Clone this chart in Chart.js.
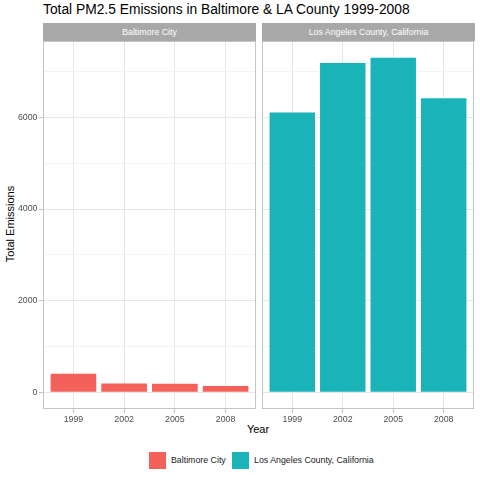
<!DOCTYPE html>
<html>
<head>
<meta charset="utf-8">
<script src="https://cdn.jsdelivr.net/npm/chart.js@4/dist/chart.umd.min.js"></script>
<style>
html,body{margin:0;padding:0;background:#fff;width:480px;height:480px;overflow:hidden;font-family:"Liberation Sans",Arial,sans-serif;}
.abs{position:absolute;}
#title{left:43px;top:2px;font-size:13.8px;color:#000;white-space:nowrap;}
.strip{background:#a8a8a8;color:#fff;font-size:8.8px;text-align:center;height:18px;line-height:18px;top:23px;}
#ytitle{left:10px;top:224px;font-size:11px;color:#000;transform:translate(-50%,-50%) rotate(-90deg);white-space:nowrap;}
#xtitle{left:258px;top:429px;font-size:11px;color:#000;transform:translate(-50%,-50%);}
.key{width:17px;height:17px;top:452px;}
.ltxt{top:460px;font-size:8.8px;color:#1a1a1a;transform:translateY(-50%);white-space:nowrap;}
</style>
</head>
<body>
<div id="title" class="abs">Total PM2.5 Emissions in Baltimore &amp; LA County 1999-2008</div>
<div class="abs strip" style="left:43px;width:213px;">Baltimore City</div>
<div class="abs strip" style="left:262px;width:213px;">Los Angeles County, California</div>
<div id="ytitle" class="abs">Total Emissions</div>
<div id="xtitle" class="abs">Year</div>
<div class="abs key" style="left:149px;background:#F4605A;"></div>
<div class="abs ltxt" style="left:171px;">Baltimore City</div>
<div class="abs key" style="left:232px;background:#19B3B8;"></div>
<div class="abs ltxt" style="left:254px;">Los Angeles County, California</div>
<div class="abs" style="left:0;top:0;width:258px;height:440px;"><canvas id="c1" width="258" height="440"></canvas></div>
<div class="abs" style="left:260px;top:0;width:216px;height:440px;"><canvas id="c2" width="216" height="440"></canvas></div>
<script>
const years = ["1999", "2002", "2005", "2008"];
const baltimore = [404, 192, 185, 138];
const losAngeles = [6110, 7189, 7304, 6421];
const yTicks = [0, 1000, 2000, 3000, 4000, 5000, 6000, 7000];
const yMajor = [0, 2000, 4000, 6000];
const facetNames = ["Baltimore City", "Los Angeles County, California"];
const colors = ["#F4605A", "#19B3B8"];

const Y_MIN = -365, Y_MAX = 7669;
const FONT = {family: '"Liberation Sans", Arial, sans-serif', size: 8.8};

const borderPlugin = {
  id: 'panelBorder',
  afterDraw(chart) {
    const a = chart.chartArea, ctx = chart.ctx;
    ctx.save();
    ctx.strokeStyle = '#c4c4c4';
    ctx.lineWidth = 1;
    ctx.strokeRect(Math.round(a.left) + 0.5, Math.round(a.top) + 0.5, Math.round(a.right - a.left) - 1, Math.round(a.bottom - a.top) - 1);
    ctx.restore();
  }
};

function makeChart(id, values, color, showY, pad) {
  const data = years.map((y, i) => ({x: i, y: values[i]}));
  return new Chart(document.getElementById(id), {
    type: 'bar',
    data: {datasets: [{data, backgroundColor: color, borderWidth: 0, barPercentage: 0.9, categoryPercentage: 1}]},
    options: {
      responsive: false, animation: false, devicePixelRatio: 1,
      layout: {padding: pad},
      plugins: {legend: {display: false}, tooltip: {enabled: false}},
      scales: {
        x: {
          type: 'linear', min: -0.6, max: 3.6, offset: false,
          afterBuildTicks(s) { s.ticks = years.map((y, i) => ({value: i})); },
          afterFit(s) { s.height = 31; },
          ticks: {callback: v => years[v] ?? '', color: '#4d4d4d', font: FONT, padding: 1, maxRotation: 0, autoSkip: false},
          grid: {offset: false, color: '#e6e6e6', lineWidth: 1, tickColor: '#c4c4c4', tickLength: 4, drawTicks: true},
          border: {display: false}
        },
        y: {
          min: Y_MIN, max: Y_MAX,
          afterBuildTicks(s) { s.ticks = yTicks.map(v => ({value: v})); },
          afterFit(s) { s.width = showY ? 43 : 0; },
          ticks: {display: showY, callback: v => yMajor.includes(v) ? String(v) : '', color: '#4d4d4d', font: FONT, padding: 1.5, autoSkip: false},
          grid: {
            offset: false,
            color: c => yMajor.includes(c.tick && c.tick.value) ? '#e6e6e6' : '#f3f3f3',
            tickColor: c => (showY && yMajor.includes(c.tick && c.tick.value)) ? '#c4c4c4' : 'rgba(0,0,0,0)',
            lineWidth: 1, tickLength: 4, drawTicks: showY
          },
          border: {display: false}
        }
      }
    },
    plugins: [borderPlugin]
  });
}

makeChart('c1', baltimore, colors[0], true, {top: 41, right: 2, left: 0, bottom: 0});
makeChart('c2', losAngeles, colors[1], false, {top: 41, right: 2, left: 2, bottom: 0});
</script>
</body>
</html>
